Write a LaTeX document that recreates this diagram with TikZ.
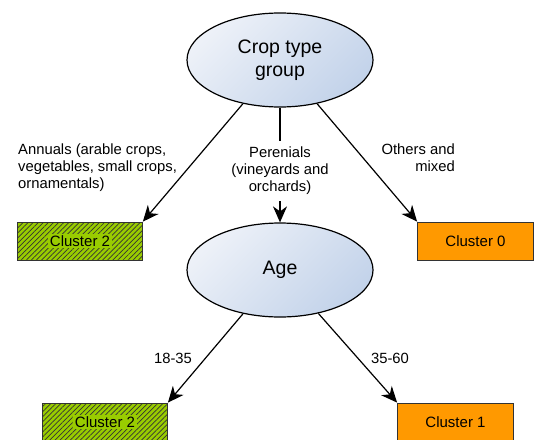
\documentclass[tikz,border=0pt]{standalone}
\usepackage{fontspec}
\setmainfont{Liberation Sans}
\usetikzlibrary{shapes.geometric,arrows.meta,patterns.meta}

\definecolor{ellLight}{HTML}{EDF1F8}
\definecolor{ellDark}{HTML}{C3D3EA}
\definecolor{clOrange}{HTML}{FF9900}
\definecolor{clGreen}{HTML}{99CC00}
\definecolor{boxLine}{HTML}{333333}

\tikzset{
  decision/.style={ellipse, draw=black, line width=1.2pt,
    minimum width=186pt, minimum height=94pt, inner sep=0pt,
    top color=ellLight, bottom color=ellDark, shading angle=45,
    font=\fontsize{19.5}{23}\selectfont, align=center},
  clusterbox/.style={rectangle, draw=boxLine, line width=0.8pt,
    minimum height=38pt, inner sep=0pt,
    font=\fontsize{15}{18}\selectfont},
  orangebox/.style={clusterbox, fill=clOrange, minimum width=116pt},
  greenbox/.style={clusterbox, minimum width=125pt,
    preaction={fill=clGreen},
    pattern={Lines[angle=45, distance=3.6pt, line width=0.7pt]},
    pattern color=black!80},
  greenlabel/.style={fill=clGreen, inner sep=1.5pt,
    font=\fontsize{15}{18}\selectfont},
  edgelabel/.style={font=\fontsize{14.8}{17}\selectfont, inner sep=0pt},
  arr/.style={line width=1.2pt,
    -{Stealth[length=16pt, width=14pt, inset=5pt]}}
}

\begin{document}
\begin{tikzpicture}[x=1pt, y=-1pt]
  \useasboundingbox (0,0) rectangle (534,439);

  % decision nodes
  \node[decision] (crop) at (280,60) {Crop type\\group};
  \node[decision] (age)  at (280,270) {Age};

  % leaves of the first split
  \node[greenbox] (c2a) at (80,241) {};
  \node[greenlabel] (c2alabel) at (c2a) {Cluster 2};
  \node[orangebox] (c0) at (475.5,241) {Cluster 0};

  % leaves of the second split
  \node[greenbox] (c2b) at (105,422) {};
  \node[greenlabel] (c2blabel) at (c2b) {Cluster 2};
  \node[orangebox] (c1) at (455.5,422) {Cluster 1};

  % branch labels
  \node[edgelabel, anchor=north west, align=left] (lannual) at (18,144)
    {Annuals (arable crops,\\vegetables, small crops,\\ornamentals)};
  \node[edgelabel, anchor=north east, align=right] (lother) at (455,144)
    {Others and\\mixed};
  \node[edgelabel] (lyoung) at (173,358) {18-35};
  \node[edgelabel] (lold) at (390,358) {35-60};

  % connectors
  \draw[arr] (crop) -- (c2a.north east);
  \draw[arr] (crop) -- (c0.north west);
  \draw[arr] (crop) -- node[edgelabel, fill=white, align=center,
      inner sep=6pt, pos=0.55] (lperen)
      {Perenials\\(vineyards and\\orchards)} (age);
  \draw[arr] (age) -- (c2b.north east);
  \draw[arr] (age) -- (c1.north west);
\end{tikzpicture}
\end{document}
